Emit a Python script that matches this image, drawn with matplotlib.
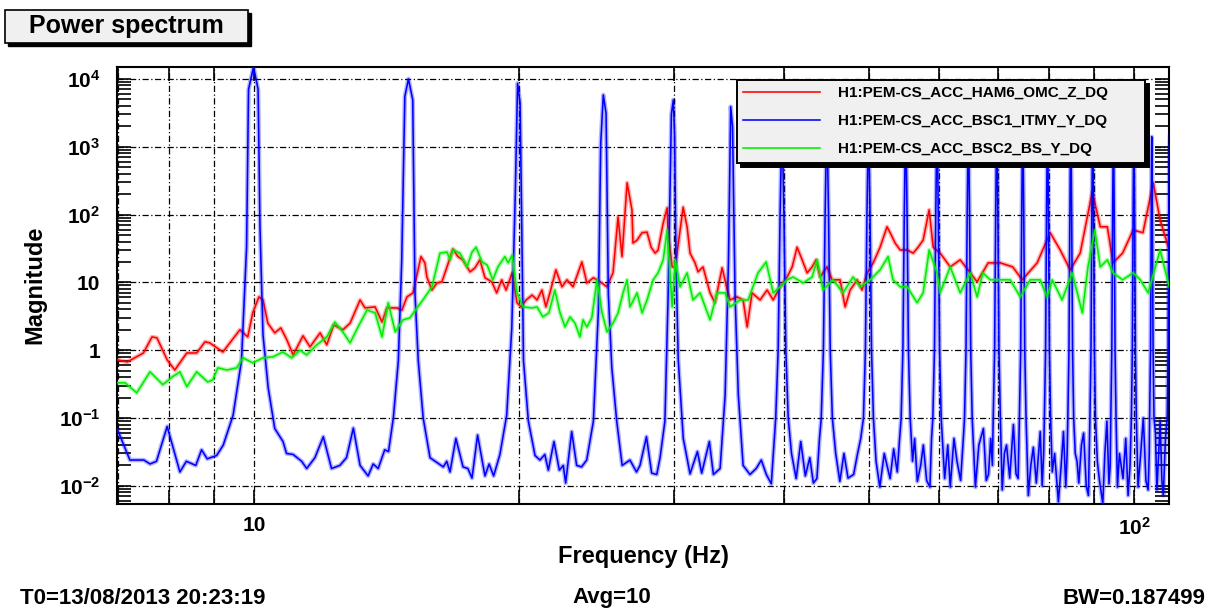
import matplotlib
matplotlib.use("Agg")
import matplotlib.pyplot as plt
from matplotlib.patches import Rectangle
from matplotlib.ticker import FixedLocator, FixedFormatter, NullFormatter

plt.rcParams["font.family"] = ["Liberation Sans", "DejaVu Sans"]
plt.rcParams["font.weight"] = "bold"
plt.rcParams["mathtext.fontset"] = "custom"
plt.rcParams["mathtext.rm"] = "Liberation Sans:bold"
plt.rcParams["mathtext.bf"] = "Liberation Sans:bold"
plt.rcParams["mathtext.it"] = "Liberation Sans:bold"
plt.rcParams["mathtext.default"] = "rm"

# channel names (legend order)
channels = ["H1:PEM-CS_ACC_HAM6_OMC_Z_DQ",
            "H1:PEM-CS_ACC_BSC1_ITMY_Y_DQ",
            "H1:PEM-CS_ACC_BSC2_BS_Y_DQ"]
colors = ["#ff0000", "#0000ff", "#00ee00"]

# (frequency Hz, magnitude)
red_pts = [
    (7.0, 0.72), (7.18, 0.67), (7.49, 0.91), (7.66, 1.57), (7.76, 1.52), (7.97, 0.72),
    (8.13, 0.51), (8.39, 0.91), (8.61, 0.91), (8.8, 1.33), (8.91, 1.28), (9.22, 0.94),
    (9.39, 1.28), (9.64, 2.0), (9.84, 1.57), (9.97, 3.55), (10.13, 6.1), (10.24, 5.5),
    (10.37, 2.5), (10.56, 1.8), (10.73, 2.13), (10.9, 1.42), (11.08, 0.85), (11.37, 1.63),
    (11.58, 1.12), (11.89, 1.8), (12.1, 1.2), (12.32, 2.36), (12.62, 2.0), (12.86, 2.5),
    (13.2, 5.5), (13.37, 4.2), (13.73, 4.35), (13.98, 2.6), (14.16, 4.2), (14.54, 4.2),
    (14.73, 3.9), (14.92, 6.1), (15.16, 7.0), (15.48, 24), (15.64, 19.4), (15.72, 12),
    (15.93, 7.7), (16.14, 9.8), (16.35, 10.2), (16.57, 16.9), (16.83, 31), (17.05, 24),
    (17.27, 21.5), (17.6, 14.3), (17.83, 16.4), (18.06, 21.5), (18.3, 11.7), (18.63, 10.2),
    (18.87, 7.0), (19.12, 10.9), (19.34, 7.7), (19.65, 13.8), (19.9, 5.0), (20.11, 4.35),
    (20.38, 5.5), (20.7, 6.5), (20.97, 5.5), (21.24, 7.7), (21.46, 4.35), (21.69, 7.0),
    (22.03, 15.3), (22.38, 8.6), (22.68, 10.9), (23.04, 8.6), (23.58, 20), (23.89, 9.8),
    (24.3, 11.7), (24.73, 10.2), (25.18, 8.6), (25.58, 13.8), (25.92, 92), (26.19, 24),
    (26.54, 293), (26.88, 117), (26.95, 38), (27.24, 42), (27.6, 54), (27.96, 55),
    (28.26, 33), (28.56, 27), (28.78, 30), (29.17, 75), (29.47, 125), (29.55, 54),
    (29.86, 16.9), (30.1, 16.9), (30.73, 128), (31.05, 66), (31.29, 27), (31.7, 19.4),
    (31.95, 14.3), (32.37, 16.9), (32.97, 7.0), (33.4, 5.0), (34.03, 16.4), (34.5, 7.7),
    (34.74, 5.5), (35.4, 6.1), (35.95, 5.5), (36.33, 2.2), (36.8, 7.0), (37.58, 5.5),
    (38.28, 7.7), (38.89, 5.5), (39.6, 8.6), (40.34, 12), (40.87, 16.9), (41.4, 33),
    (41.95, 21.5), (42.5, 13.8), (43.06, 16.9), (43.51, 21.5), (43.97, 12), (44.78, 16.9),
    (45.36, 10.9), (46.33, 10.9), (46.94, 4.35), (47.56, 7.7), (48.44, 10.9), (49.07, 7.7),
    (49.73, 13.8), (50.52, 19.4), (51.44, 33), (52.38, 66), (52.81, 54), (53.5, 38),
    (54.21, 30), (55.21, 30), (56.09, 27), (56.82, 33), (57.57, 42), (58.48, 117),
    (59.1, 33), (60.19, 27), (61.79, 16.9), (63.43, 21.5), (65.11, 13.8), (66.3, 10.2),
    (68.25, 19.4), (70.43, 19.4), (72.77, 16.9), (74.6, 10.9), (77.57, 19.4), (80.26, 54),
    (82.39, 30), (84.57, 15.3), (86.81, 27), (89.6, 216), (91.5, 66), (93.2, 66),
    (94.6, 19.4), (97.0, 27), (99.7, 59), (102.3, 54), (105.1, 293), (107.0, 83),
    (109.6, 30),
]

blue_pts = [
    (7.0, 0.067), (7.23, 0.024), (7.5, 0.024), (7.62, 0.021), (7.75, 0.023), (7.97, 0.075),
    (8.24, 0.016), (8.38, 0.023), (8.59, 0.02), (8.72, 0.034), (8.85, 0.025), (9.07, 0.028),
    (9.23, 0.04), (9.47, 0.11), (9.68, 0.7), (9.81, 33), (9.86, 7000), (9.99, 15000),
    (10.11, 7000), (10.16, 65), (10.24, 1.7), (10.38, 0.28), (10.56, 0.07), (10.79, 0.045),
    (10.89, 0.03), (11.08, 0.029), (11.33, 0.023), (11.48, 0.018), (11.73, 0.026), (11.99, 0.053),
    (12.25, 0.018), (12.52, 0.02), (12.74, 0.026), (12.97, 0.071), (13.2, 0.02), (13.48, 0.014),
    (13.66, 0.021), (13.84, 0.018), (14.08, 0.034), (14.22, 0.032), (14.4, 0.1), (14.59, 0.7),
    (14.72, 21), (14.84, 5500), (14.98, 10000), (15.15, 4900), (15.24, 6.7), (15.37, 0.7),
    (15.57, 0.1), (15.85, 0.026), (16.41, 0.019), (16.56, 0.023), (16.7, 0.016), (16.96, 0.05),
    (17.28, 0.019), (17.5, 0.018), (17.69, 0.013), (17.95, 0.056), (18.3, 0.014), (18.5, 0.021),
    (18.72, 0.014), (19.03, 0.029), (19.37, 0.11), (19.63, 2.1), (19.81, 200), (19.93, 8600),
    (20.06, 4400), (20.15, 65), (20.24, 0.7), (20.5, 0.09), (20.86, 0.028), (21.13, 0.024),
    (21.4, 0.029), (21.6, 0.017), (21.92, 0.045), (22.23, 0.017), (22.46, 0.02), (22.6, 0.011),
    (22.96, 0.063), (23.26, 0.02), (23.56, 0.019), (23.88, 0.024), (24.3, 0.09), (24.62, 3.8),
    (24.77, 1100), (24.94, 5800), (25.12, 3100), (25.27, 6.7), (25.5, 0.55), (25.83, 0.09),
    (26.2, 0.02), (26.74, 0.024), (27.2, 0.016), (27.45, 0.02), (27.92, 0.053), (28.3, 0.0154),
    (28.68, 0.0147), (28.93, 0.026), (29.3, 0.09), (29.55, 6.7), (29.8, 3000), (29.95, 4900),
    (30.05, 1500), (30.16, 21), (30.34, 0.72), (30.74, 0.05), (31.29, 0.015), (31.9, 0.032),
    (32.26, 0.0154), (32.91, 0.045), (33.26, 0.0147), (33.85, 0.018), (34.3, 0.22), (34.6, 21),
    (34.8, 3900), (34.97, 1950), (35.2, 6.7), (35.5, 0.22), (35.95, 0.02), (36.6, 0.0147),
    (37.2, 0.018), (37.7, 0.024), (38.2, 0.0147), (38.7, 0.0107),
    # 40 Hz
    (39.15, 0.1), (39.4, 1.0), (39.6, 100), (39.72, 800), (39.8, 3000), (39.88, 800),
    (40.0, 100), (40.2, 1.0), (40.45, 0.1), (40.8, 0.03), (41.3, 0.0128), (41.8, 0.045),
    (42.3, 0.014), (42.8, 0.026), (43.2, 0.011), (43.6, 0.0128), (43.9, 0.05),
    # 45 Hz
    (44.1, 0.1), (44.35, 1.0), (44.55, 100), (44.67, 800), (44.75, 2500), (44.83, 800),
    (44.95, 100), (45.15, 1.0), (45.4, 0.1), (45.8, 0.03), (46.3, 0.0116), (46.8, 0.03),
    (47.3, 0.013), (48.0, 0.0147), (48.5, 0.03), (48.9, 0.05),
    # 50 Hz
    (49.25, 0.1), (49.5, 1.0), (49.7, 100), (49.82, 800), (49.9, 2500), (49.98, 800),
    (50.1, 100), (50.3, 1.0), (50.55, 0.1), (50.9, 0.023), (51.4, 0.0096), (52.0, 0.03),
    (52.8, 0.0128), (53.3, 0.035), (53.8, 0.016), (54.1, 0.045),
    # 55 Hz
    (54.35, 0.1), (54.6, 1.0), (54.8, 100), (54.92, 800), (55.0, 2000), (55.08, 800),
    (55.2, 100), (55.4, 1.0), (55.65, 0.1), (56.0, 0.023), (56.3, 0.05), (56.7, 0.0116),
    (57.2, 0.02), (57.6, 0.04), (58.1, 0.012), (58.6, 0.0096), (58.85, 0.05),
    # 60 Hz
    (59.05, 0.1), (59.3, 1.0), (59.5, 100), (59.62, 800), (59.7, 2000), (59.78, 800),
    (59.9, 100), (60.1, 1.0), (60.35, 0.1), (60.9, 0.0128), (61.4, 0.04), (61.8, 0.0096),
    (62.4, 0.05), (62.9, 0.023), (63.5, 0.012), (63.95, 0.05),
    # 65 Hz
    (64.15, 0.1), (64.4, 1.0), (64.6, 100), (64.72, 800), (64.8, 1800), (64.88, 800),
    (65.0, 100), (65.2, 1.0), (65.45, 0.1), (66.0, 0.0096), (66.6, 0.04), (67.4, 0.07),
    (67.9, 0.012), (68.3, 0.0147), (68.7, 0.05), (69.0, 0.02),
    # 70 Hz
    (69.15, 0.1), (69.4, 1.0), (69.6, 100), (69.72, 800), (69.8, 1800), (69.88, 800),
    (70.0, 100), (70.2, 1.0), (70.45, 0.1), (70.8, 0.0087), (71.2, 0.03), (71.6, 0.04),
    (72.2, 0.013), (72.9, 0.08), (73.4, 0.015), (73.8, 0.0128),
    # 75 Hz
    (74.05, 0.1), (74.3, 1.0), (74.5, 100), (74.62, 800), (74.7, 1500), (74.78, 800),
    (74.9, 100), (75.1, 1.0), (75.35, 0.1), (75.8, 0.0072), (76.3, 0.02), (76.8, 0.037),
    (77.4, 0.011), (78.2, 0.063), (78.6, 0.01), (78.9, 0.03),
    # 80 Hz
    (79.05, 0.1), (79.3, 1.0), (79.5, 100), (79.62, 800), (79.7, 1500), (79.78, 800),
    (79.9, 100), (80.1, 1.0), (80.35, 0.1), (80.7, 0.016), (81.2, 0.03), (82.0, 0.0058),
    (82.6, 0.02), (83.1, 0.063), (83.6, 0.0096), (83.9, 0.03),
    # 85 Hz
    (84.05, 0.1), (84.3, 1.0), (84.5, 100), (84.62, 800), (84.7, 1500), (84.78, 800),
    (84.9, 100), (85.1, 1.0), (85.35, 0.1), (85.7, 0.03), (86.1, 0.023), (86.5, 0.011),
    (87.1, 0.04), (87.6, 0.06), (88.2, 0.01), (88.7, 0.0072), (88.9, 0.03),
    # 90 Hz
    (89.05, 0.1), (89.3, 1.0), (89.5, 100), (89.62, 800), (89.7, 1200), (89.78, 800),
    (89.9, 100), (90.1, 1.0), (90.35, 0.1), (90.8, 0.023), (91.3, 0.012), (92.1, 0.0055),
    (92.6, 0.03), (93.1, 0.09), (93.6, 0.0107), (93.9, 0.02),
    # 95 Hz
    (94.05, 0.1), (94.3, 1.0), (94.5, 100), (94.62, 800), (94.7, 1200), (94.78, 800),
    (94.9, 100), (95.1, 1.0), (95.35, 0.1), (95.7, 0.0096), (96.2, 0.03), (97.1, 0.0128),
    (97.8, 0.05), (98.4, 0.0072), (98.9, 0.02),
    # 100 Hz
    (99.25, 0.1), (99.5, 1.0), (99.7, 100), (99.82, 800), (99.9, 1200), (99.98, 800),
    (100.1, 100), (100.3, 1.0), (100.55, 0.1), (101.0, 0.0096), (101.7, 0.03), (102.4, 0.1),
    (103.1, 0.012), (103.7, 0.0087), (104.0, 0.03),
    # 105 Hz
    (104.1, 0.1), (104.35, 1.0), (104.55, 100), (104.63, 600), (104.7, 1400), (104.77, 600),
    (104.85, 100), (105.05, 1.0), (105.3, 0.1), (105.7, 0.06), (106.1, 0.0087), (106.6, 0.03),
    (107.0, 0.09), (107.5, 0.012), (107.9, 0.0072), (108.5, 0.05),
    # 110 Hz (cut by the frame)
    (109.0, 0.1), (109.25, 1.0), (109.45, 100), (109.6, 800), (109.8, 1500), (110.2, 1500),
]

green_pts = [
    (7.0, 0.33), (7.14, 0.33), (7.36, 0.235), (7.62, 0.48), (7.88, 0.31), (8.07, 0.4),
    (8.24, 0.48), (8.39, 0.29), (8.61, 0.48), (8.86, 0.34), (8.98, 0.365), (9.1, 0.55),
    (9.32, 0.51), (9.56, 0.55), (9.72, 0.77), (9.97, 0.65), (10.24, 0.77), (10.51, 0.8),
    (10.79, 0.94), (11.04, 0.77), (11.28, 1.0), (11.48, 0.85), (11.79, 1.2), (12.1, 1.57),
    (12.36, 2.6), (12.62, 1.86), (12.86, 1.28), (13.13, 2.2), (13.44, 3.9), (13.73, 3.55),
    (13.98, 1.57), (14.21, 5.0), (14.47, 1.86), (14.77, 2.8), (15.04, 3.0), (15.32, 4.2),
    (15.56, 5.5), (15.93, 8.6), (16.27, 27), (16.57, 28), (16.7, 21.5), (16.83, 30),
    (17.14, 27), (17.46, 16.9), (17.69, 28), (17.88, 33), (18.16, 20), (18.4, 18.1),
    (18.68, 10.9), (18.93, 16.9), (19.28, 24), (19.44, 19.4), (19.65, 25), (19.9, 7.0),
    (20.22, 4.35), (20.7, 4.2), (20.97, 4.35), (21.29, 3.1), (21.63, 3.55), (21.97, 7.7),
    (22.27, 3.55), (22.56, 2.2), (22.86, 3.1), (23.16, 2.5), (23.46, 1.57), (23.65, 2.8),
    (23.89, 2.2), (24.2, 3.0), (24.53, 10.9), (24.86, 3.55), (25.18, 1.86), (25.58, 2.5),
    (25.92, 3.55), (26.26, 7.0), (26.54, 10.9), (26.74, 4.35), (27.24, 7.0), (27.6, 3.55),
    (27.96, 5.5), (28.41, 10.9), (28.78, 13.8), (29.17, 21.5), (29.47, 59), (29.86, 4.35),
    (30.1, 21.5), (30.48, 8.6), (31.05, 13.8), (31.53, 5.5), (32.12, 7.0), (32.97, 2.8),
    (33.58, 7.0), (34.3, 7.0), (34.74, 4.35), (35.67, 5.5), (36.42, 5.5), (37.38, 13.8),
    (38.18, 20), (38.89, 7.0), (39.6, 8.6), (40.34, 10.9), (40.97, 12), (42.06, 9.8),
    (43.06, 12), (43.63, 21.5), (44.3, 7.7), (45.48, 10.9), (46.69, 7.0), (47.93, 12),
    (48.82, 8.6), (50.12, 10.9), (51.44, 15.3), (52.53, 24), (53.2, 10.9), (54.21, 8.6),
    (55.21, 8.6), (56.67, 5.0), (57.57, 7.0), (58.48, 30), (59.7, 13.8), (60.19, 7.0),
    (61.79, 16.9), (63.43, 7.0), (65.11, 13.8), (66.3, 6.1), (67.3, 13.8), (68.61, 10.9),
    (70.43, 10.9), (72.29, 10.9), (74.21, 6.1), (76.17, 10.9), (78.19, 10.9), (79.6, 6.1),
    (80.7, 10.9), (82.8, 5.5), (85.0, 13.8), (87.3, 3.55), (88.6, 16.9), (90.2, 59),
    (91.5, 16.9), (93.2, 21.5), (94.6, 13.8), (97.0, 10.9), (99.7, 13.8), (101.6, 10.9),
    (103.7, 7.0), (107.0, 30), (109.6, 8.6),
]

x_major = [10, 100]
x_major_labels = ["10", "$10^{2}$"]
x_minor = [7, 8, 9, 20, 30, 40, 50, 60, 70, 80, 90]
y_major = [1e-2, 1e-1, 1, 10, 1e2, 1e3, 1e4]
y_major_labels = ["$10^{-2}$", "$10^{-1}$", "1", "10", "$10^{2}$", "$10^{3}$", "$10^{4}$"]
y_minor = [m * d for d in [1e-3, 1e-2, 1e-1, 1, 10, 1e2, 1e3, 1e4] for m in range(2, 10)]


def main():
    fig = plt.figure(figsize=(12.15, 6.12), dpi=100)
    ax = fig.add_axes([0.0963, 0.1765, 0.8658, 0.7141])

    for pts, col, name in zip([red_pts, blue_pts, green_pts], colors, channels):
        f, v = zip(*pts)
        # soft halo like the anti-aliased original, then the sharp line
        ax.plot(f, v, color=col, lw=3.2, alpha=0.3, zorder=3)
        ax.plot(f, v, color=col, lw=1.15, label=name, zorder=3)

    ax.set_xscale("log")
    ax.set_yscale("log")
    ax.set_xlim(6.99, 109.5)
    ax.set_ylim(0.0054, 1.5e4)

    ax.xaxis.set_major_locator(FixedLocator(x_major))
    ax.xaxis.set_major_formatter(FixedFormatter(x_major_labels))
    ax.xaxis.set_minor_locator(FixedLocator(x_minor))
    ax.xaxis.set_minor_formatter(NullFormatter())
    ax.yaxis.set_major_locator(FixedLocator(y_major))
    ax.yaxis.set_major_formatter(FixedFormatter(y_major_labels))
    ax.yaxis.set_minor_locator(FixedLocator(y_minor))
    ax.yaxis.set_minor_formatter(NullFormatter())

    ax.tick_params(which="both", direction="in", top=True, right=True,
                   length=10, width=1.2, labelsize=15)
    ax.tick_params(axis="x", pad=9)
    ax.tick_params(axis="y", pad=12)

    grid_ls = (0, (5, 2, 1, 2))
    ax.grid(True, which="major", axis="y", color="black", lw=0.9, ls=grid_ls)
    ax.grid(True, which="both", axis="x", color="black", lw=0.9, ls=grid_ls)
    for sp in ax.spines.values():
        sp.set_linewidth(1.5)

    leg = ax.legend(loc="upper left", bbox_to_anchor=(0.5894, 0.9703, 0.3878, 0.0),
                    mode="expand", borderaxespad=0.0, fontsize=11,
                    handlelength=5.0, handletextpad=1.2,
                    borderpad=0.42, labelspacing=0.92, fancybox=False,
                    framealpha=1.0, facecolor="#f0f0f0", edgecolor="black",
                    shadow={"ox": 3, "oy": -3, "color": "black", "alpha": 1.0})
    leg.get_frame().set_linewidth(1.4)
    leg.set_zorder(6)

    # title box with a dark shadow
    fig.add_artist(Rectangle((8 / 1215, 1 - 46 / 612), 243 / 1215, 33 / 612,
                             transform=fig.transFigure, fc="black", ec="black"))
    fig.add_artist(Rectangle((5 / 1215, 1 - 43 / 612), 243 / 1215, 33 / 612,
                             transform=fig.transFigure, fc="#f0f0f0", ec="black", lw=1.2))
    fig.text(126.5 / 1215, 1 - 26.5 / 612, "Power spectrum", fontsize=18,
             fontweight="bold", ha="center", va="center")

    fig.text(35 / 1215, 1 - 285 / 612, "Magnitude", rotation=90, fontsize=17,
             fontweight="bold", ha="center", va="center")
    fig.text(643 / 1215, 1 - 557 / 612, "Frequency (Hz)", fontsize=17,
             fontweight="bold", ha="center", va="center")

    fig.text(20 / 1215, 1 - 598 / 612, "T0=13/08/2013 20:23:19", fontsize=16,
             fontweight="bold", ha="left", va="center")
    fig.text(612 / 1215, 1 - 598 / 612, "Avg=10", fontsize=16,
             fontweight="bold", ha="center", va="center")
    fig.text(1205 / 1215, 1 - 598 / 612, "BW=0.187499", fontsize=16,
             fontweight="bold", ha="right", va="center")

    fig.savefig("out.png", dpi=100)


if __name__ == "__main__":
    main()
